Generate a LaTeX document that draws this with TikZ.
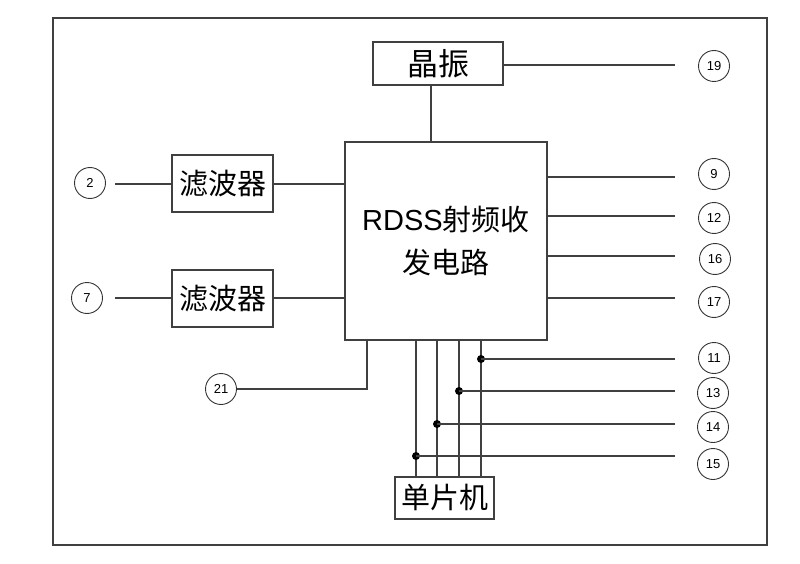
\documentclass[tikz,border=0pt]{standalone}
\usepackage{fontspec}
\setmainfont{Liberation Sans}
\newfontfamily\cjk{Noto Sans CJK SC}
\begin{document}
\begin{tikzpicture}[x=1pt,y=-1pt,
  ln/.style={draw=black!75,line width=1.2pt},
  box/.style={draw=black!75,line width=1.2pt,fill=white,inner sep=0pt,font=\cjk\fontsize{29}{30}\selectfont},
  pin/.style={draw=black!80,line width=0.9pt,circle,minimum size=31pt,inner sep=0pt,font=\fontsize{13}{14}\selectfont},
  dot/.style={circle,fill=black,inner sep=0pt,minimum size=8pt}]
\useasboundingbox (0,0) rectangle (800,564);
\draw[ln] (53,18) rectangle (767,545);
% boxes
\node[box,minimum width=130pt,minimum height=43pt,font=\cjk\fontsize{31}{32}\selectfont] (xz) at (438,63.5) {晶振};
\node[box,minimum width=202pt,minimum height=198pt,align=center,font=\fontsize{29}{43}\selectfont] (rf) at (446,241) {RDSS{\cjk 射频收}\\{\cjk 发电路}};
\node[box,minimum width=101pt,minimum height=57pt] (f1) at (222.5,183.5) {滤波器};
\node[box,minimum width=101pt,minimum height=57pt] (f2) at (222.5,298.5) {滤波器};
\node[box,minimum width=99pt,minimum height=42pt] (mcu) at (444.5,498) {单片机};
% pins
\node[pin] (p19) at (714,66) {19};
\node[pin] (p9) at (714,174) {9};
\node[pin] (p12) at (714,218) {12};
\node[pin] (p16) at (715,259) {16};
\node[pin] (p17) at (714,302) {17};
\node[pin] (p11) at (714,358) {11};
\node[pin] (p13) at (713,393) {13};
\node[pin] (p14) at (713,427) {14};
\node[pin] (p15) at (713,464) {15};
\node[pin] (p2) at (90,183) {2};
\node[pin] (p7) at (87,298) {7};
\node[pin] (p21) at (221,389) {21};
% free ends
\coordinate (e19) at (675,65);
\coordinate (e9) at (675,177);
\coordinate (e12) at (675,216);
\coordinate (e16) at (675,256);
\coordinate (e17) at (675,298);
\coordinate (e11) at (675,359);
\coordinate (e13) at (675,391);
\coordinate (e14) at (675,424);
\coordinate (e15) at (675,456);
\coordinate (e2) at (115,184);
\coordinate (e7) at (115,298);
% connectors
\draw[ln] (xz.east |- e19) -- (e19);
\draw[ln] (431,85) -- (431,142);
\draw[ln] (rf.east |- e9) -- (e9);
\draw[ln] (rf.east |- e12) -- (e12);
\draw[ln] (rf.east |- e16) -- (e16);
\draw[ln] (rf.east |- e17) -- (e17);
\draw[ln] (e2) -- (f1.west |- e2);
\draw[ln] (f1.east |- e2) -- (rf.west |- e2);
\draw[ln] (e7) -- (f2.west |- e7);
\draw[ln] (f2.east |- e7) -- (rf.west |- e7);
\draw[ln] (p21.east) -- (367,389) -- (367,340);
\foreach \x/\e in {416/e15,437/e14,459/e13,481/e11}{
  \draw[ln] (\x,340) -- (\x,477);
  \node[dot] (d\e) at (\x,0 |- \e) {};
  \draw[ln] (d\e.center) -- (\e);
}
\end{tikzpicture}
\end{document}
